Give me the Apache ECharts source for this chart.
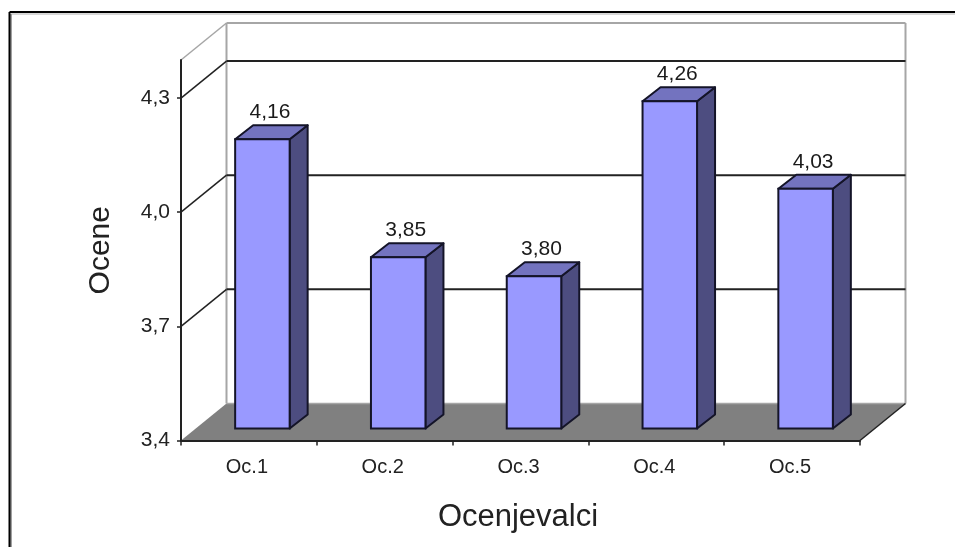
<!DOCTYPE html>
<html>
<head>
<meta charset="utf-8">
<style>html,body{margin:0;padding:0;background:#fff}#chart{width:955px;height:547px}</style>
<script src="https://cdn.jsdelivr.net/npm/echarts@6/dist/echarts.min.js"></script>
</head>
<body>
<div id="chart"></div>
<script>
// Average grade given by each assessor
const categories = ['Oc.1', 'Oc.2', 'Oc.3', 'Oc.4', 'Oc.5'];
const grades = [4.16, 3.85, 3.80, 4.26, 4.03];
const yTicks = [3.4, 3.7, 4.0, 4.3];
const yMin = 3.4;
const yMax = 4.4;

const FONT = '"Liberation Sans", Arial, sans-serif';
const fmt = (v, d) => Number(v).toFixed(d).replace('.', ',');

// Oblique projection of the chart box: pixels from the front plane to the back wall
const BOX_DX = 45.5, BOX_DY = -37;
// Bars stand part-way into the box and have a shallower depth of their own
const BAR_INSET_DX = 13.5, BAR_INSET_DY = -12;
const BAR_DX = 18, BAR_DY = -14;
const BAR_WIDTH = 54.5;

const INK = '#141428';
const WALL = '#a6a6a6';
const GRID = '#222222';

function line(x1, y1, x2, y2, stroke, width) {
  return {
    type: 'line',
    shape: { x1, y1, x2, y2 },
    style: { stroke, lineWidth: width, fill: null }
  };
}

function poly(points, fill, stroke, width) {
  return {
    type: 'polygon',
    shape: { points },
    style: { fill, stroke, lineWidth: width, lineJoin: 'round' }
  };
}

// Floor and the two walls of the box, with grid lines running along them
function renderBox(params, api) {
  const c = params.coordSys;
  const left = c.x, right = c.x + c.width;
  const floorY = api.coord([0, yMin])[1];
  const topY = api.coord([0, yMax])[1];
  const children = [
    poly([[left, floorY], [right, floorY], [right + BOX_DX, floorY + BOX_DY], [left + BOX_DX, floorY + BOX_DY]], '#808080', null, 0),
    line(left + BOX_DX, topY + BOX_DY, left + BOX_DX, floorY + BOX_DY, WALL, 2),
    line(right + BOX_DX, topY + BOX_DY, right + BOX_DX, floorY + BOX_DY, WALL, 2),
    line(left + BOX_DX, topY + BOX_DY, right + BOX_DX, topY + BOX_DY, WALL, 2),
    line(left, topY, left + BOX_DX, topY + BOX_DY, WALL, 1.5),
    line(left + BOX_DX, floorY + BOX_DY, right + BOX_DX, floorY + BOX_DY, WALL, 1.5),
    line(right, floorY, right + BOX_DX, floorY + BOX_DY, GRID, 1.5)
  ];
  yTicks.filter(v => v > yMin).forEach(v => {
    const y = api.coord([0, v])[1];
    children.push(line(left, y, left + BOX_DX, y + BOX_DY, GRID, 1.5));
    children.push(line(left + BOX_DX, y + BOX_DY, right + BOX_DX, y + BOX_DY, GRID, 2));
  });
  return { type: 'group', children };
}

// One bar: front face, side face, top face and its value label
function renderBar(params, api) {
  const i = api.value(0), v = api.value(1);
  const cx = api.coord([i, v])[0] + BAR_INSET_DX;
  const x0 = cx - BAR_WIDTH / 2, x1 = cx + BAR_WIDTH / 2;
  const yTop = api.coord([i, v])[1] + BAR_INSET_DY;
  const yBase = api.coord([i, yMin])[1] + BAR_INSET_DY;
  return {
    type: 'group',
    children: [
      poly([[x1, yTop], [x1 + BAR_DX, yTop + BAR_DY], [x1 + BAR_DX, yBase + BAR_DY], [x1, yBase]], '#4d4d80', INK, 2),
      poly([[x0, yTop], [x0 + BAR_DX, yTop + BAR_DY], [x1 + BAR_DX, yTop + BAR_DY], [x1, yTop]], '#7373bf', INK, 2),
      {
        type: 'rect',
        shape: { x: x0, y: yTop, width: BAR_WIDTH, height: yBase - yTop },
        style: { fill: '#9999ff', stroke: INK, lineWidth: 2 }
      },
      {
        type: 'text',
        style: {
          x: cx + 7.5,
          y: yTop + BAR_DY - 13,
          text: fmt(v, 2),
          font: '21px ' + FONT,
          fill: '#1a1a1a',
          align: 'center',
          verticalAlign: 'middle'
        }
      }
    ]
  };
}

const chart = echarts.init(document.getElementById('chart'), null, { renderer: 'canvas' });
chart.setOption({
  animation: false,
  backgroundColor: '#ffffff',
  graphic: [
    { type: 'line', shape: { x1: 11, y1: 14, x2: 955, y2: 14 }, style: { stroke: '#b0b0b0', lineWidth: 1 }, silent: true },
    { type: 'line', shape: { x1: 11, y1: 14, x2: 11, y2: 547 }, style: { stroke: '#a0a0a0', lineWidth: 2 }, silent: true },
    { type: 'line', shape: { x1: 9.5, y1: 12, x2: 955, y2: 12 }, style: { stroke: '#000', lineWidth: 2 }, silent: true },
    { type: 'line', shape: { x1: 9.5, y1: 12, x2: 9.5, y2: 547 }, style: { stroke: '#000', lineWidth: 2 }, silent: true }
  ],
  grid: { left: 181, top: 60, width: 679, height: 380.5 },
  xAxis: {
    type: 'category',
    data: categories,
    boundaryGap: true,
    z: 5,
    axisLine: { lineStyle: { color: '#222', width: 2 } },
    axisTick: { show: true, alignWithLabel: false, length: 5, lineStyle: { color: '#222', width: 1.5 } },
    axisLabel: { color: '#222', fontFamily: FONT, fontSize: 20, margin: 17, padding: [0, 4, 0, 0] },
    name: 'Ocenjevalci',
    nameLocation: 'middle',
    nameGap: 61,
    nameTextStyle: { color: '#222', fontFamily: FONT, fontSize: 31, padding: [0, 5, 0, 0] }
  },
  yAxis: {
    type: 'value',
    min: yMin,
    max: yMax,
    z: 5,
    splitLine: { show: false },
    axisLine: { show: true, lineStyle: { color: '#222', width: 2 } },
    axisTick: { show: true, customValues: yTicks, length: 4, lineStyle: { color: '#222', width: 1.5 } },
    axisLabel: {
      customValues: yTicks,
      formatter: v => fmt(v, 1),
      color: '#222',
      fontFamily: FONT,
      fontSize: 21,
      margin: 11
    },
    name: 'Ocene',
    nameLocation: 'middle',
    nameGap: 65,
    nameRotate: 90,
    nameTextStyle: { color: '#222', fontFamily: FONT, fontSize: 30 }
  },
  series: [
    {
      type: 'custom',
      coordinateSystem: 'cartesian2d',
      renderItem: renderBox,
      data: [[0, yMin]],
      clip: false,
      silent: true,
      z: 1
    },
    {
      type: 'custom',
      coordinateSystem: 'cartesian2d',
      renderItem: renderBar,
      data: grades.map((v, i) => [i, v]),
      encode: { x: 0, y: 1 },
      clip: false,
      z: 3
    }
  ]
});
</script>
</body>
</html>
